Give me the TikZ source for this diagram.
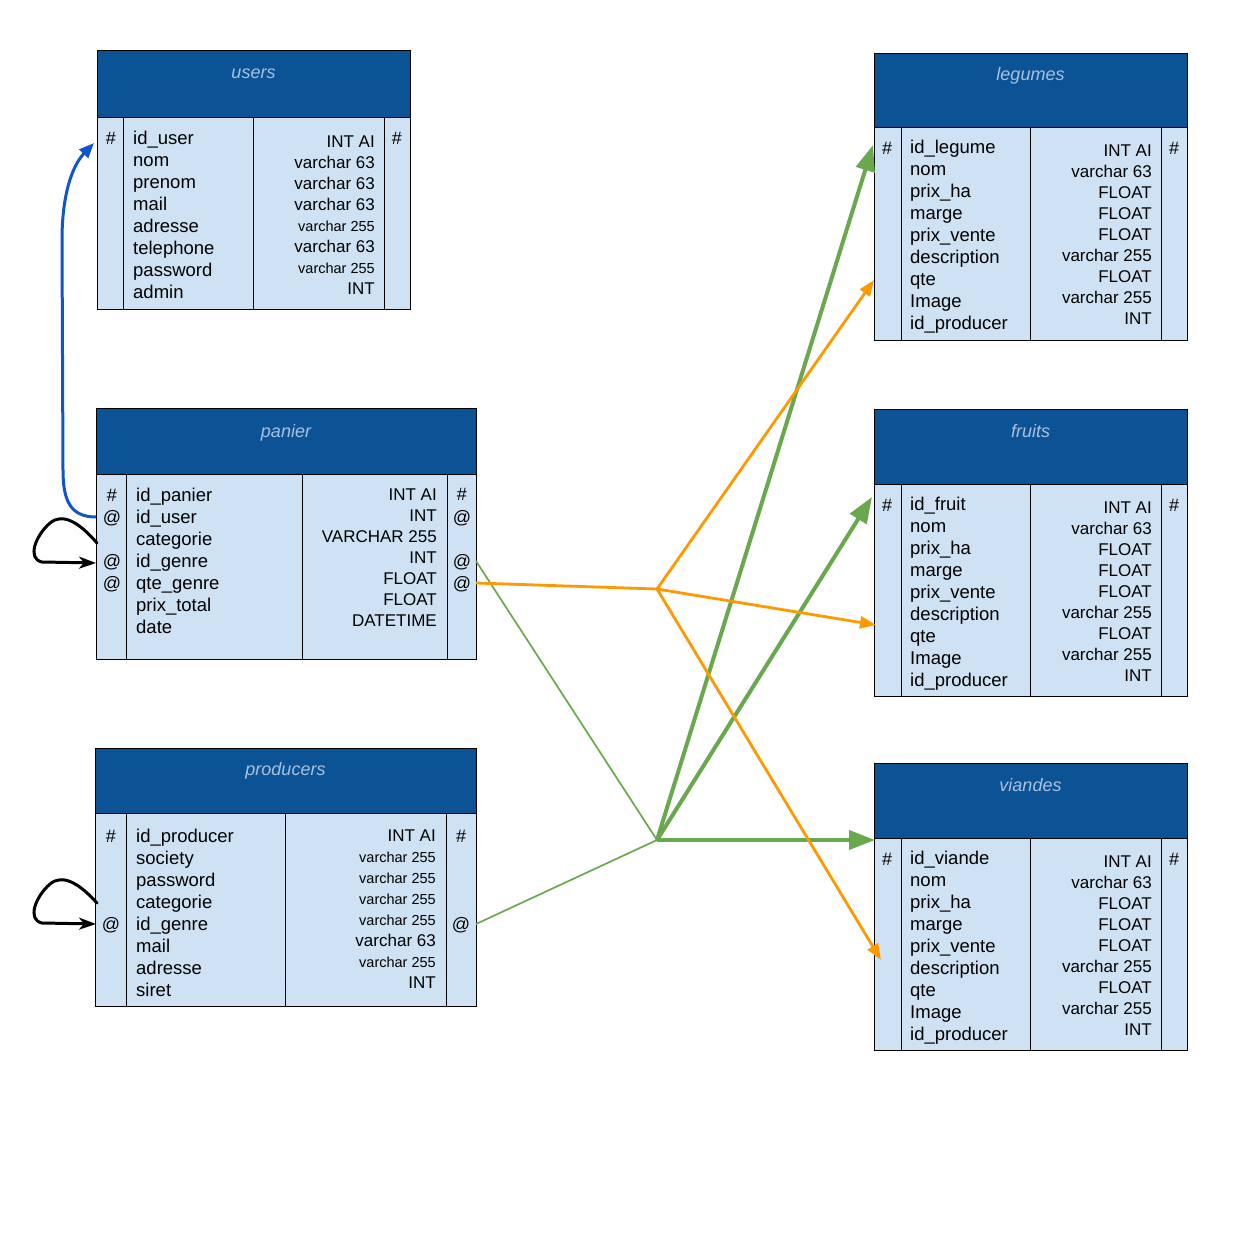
\documentclass[tikz,border=0pt]{standalone}
\usepackage{fontspec}
\setmainfont{Liberation Sans}
\usetikzlibrary{arrows.meta}
\definecolor{hdr}{HTML}{0B5394}
\definecolor{cell}{HTML}{CFE2F3}
\definecolor{ttl}{HTML}{A9C1DF}
\definecolor{org}{HTML}{FF9900}
\definecolor{grn}{HTML}{6AA84F}
\definecolor{blu}{HTML}{1155CC}
\newcommand\smv{{\fontsize{14.5}{21}\selectfont varchar 255}}
\newcommand\mktable[9]{%
  \node[hdrbox,minimum width={(#4-#2)*1pt},minimum height={(#5-#3)*1pt}] (#1-h) at (#2,#3) {};
  \node[cellbox,minimum width={(#7-#2)*1pt},minimum height={(#6-#5)*1pt}] (#1-a) at (#2,#5) {};
  \node[cellbox,minimum width={(#8-#7)*1pt},minimum height={(#6-#5)*1pt}] (#1-b) at (#7,#5) {};
  \node[cellbox,minimum width={(#9-#8)*1pt},minimum height={(#6-#5)*1pt}] (#1-c) at (#8,#5) {};
  \node[cellbox,minimum width={(#4-#9)*1pt},minimum height={(#6-#5)*1pt}] (#1-d) at (#9,#5) {};
}
\begin{document}
\begin{tikzpicture}[x=1pt,y=-1pt,
  hdrbox/.style={draw=black,fill=hdr,line width=1pt,inner sep=0pt,outer sep=0pt,anchor=north west},
  cellbox/.style={draw=black,fill=cell,line width=1pt,inner sep=0pt,outer sep=0pt,anchor=north west},
  fname/.style={font=\fontsize{18.5}{22}\selectfont,anchor=base west,inner sep=0pt},
  ftype/.style={font=\fontsize{17}{21}\selectfont,anchor=base east,inner sep=0pt},
  fsym/.style={font=\fontsize{18}{22}\selectfont,anchor=base,inner sep=0pt},
  ftitle/.style={font=\fontsize{18}{22}\selectfont\itshape,text=ttl,anchor=base,inner sep=0pt},
  orgline/.style={draw=org,line width=2.8pt},
  orgarrow/.style={orgline,-{Triangle[length=16pt,width=12pt]}},
  grnthin/.style={draw=grn,line width=1.7pt},
  grnthick/.style={draw=grn,line width=4pt,-{Triangle[length=26pt,width=19pt]}},
  bluline/.style={draw=blu,line width=3pt,-{Triangle[length=15pt,width=12pt]}},
  blkline/.style={draw=black,line width=3pt,line cap=round,-{Stealth[length=17pt,width=12pt,inset=5pt]}}
]
\useasboundingbox[fill=white] (0,0) rectangle (1253,1238);

% tables
\mktable{users}{97}{51}{410}{118}{310}{123}{253}{384}
\mktable{panier}{96}{409}{476}{474}{659}{126}{302}{447}
\mktable{producers}{95}{748}{476}{813}{1006}{126}{285}{446}
\mktable{legumes}{874}{54}{1187}{128}{341}{901}{1030}{1161}
\mktable{fruits}{874}{410}{1187}{484}{696}{901}{1030}{1161}
\mktable{viandes}{874}{763}{1187}{838}{1050}{901}{1030}{1161}

% titles
\node[ftitle] (users-title) at (253.5,79) {users};
\node[ftitle] (panier-title) at (286,437) {panier};
\node[ftitle] (producers-title) at (285.5,775) {producers};
\node[ftitle] (legumes-title) at (1030.5,81) {legumes};
\node[ftitle] (fruits-title) at (1030.5,437) {fruits};
\node[ftitle] (viandes-title) at (1030.5,791) {viandes};

% users
\foreach \t [count=\i] in {id\_user,nom,prenom,mail,adresse,telephone,password,admin}
  \node[fname] (users-n\i) at (133,{145+(\i-1)*21.9}) {\t};
\foreach \t [count=\i] in {INT AI,varchar 63,varchar 63,varchar 63,\smv,varchar 63,\smv,INT}
  \node[ftype] (users-t\i) at (375,{148+(\i-1)*21}) {\t};
\node[fsym] (users-s1) at (111,145) {\#};
\node[fsym] (users-s2) at (397,145) {\#};

% panier
\foreach \t [count=\i] in {id\_panier,id\_user,categorie,id\_genre,qte\_genre,prix\_total,date}
  \node[fname] (panier-n\i) at (136,{501+(\i-1)*22}) {\t};
\foreach \t [count=\i] in {INT AI,INT,VARCHAR 255,INT,FLOAT,FLOAT,DATETIME}
  \node[ftype] (panier-t\i) at (437,{500+(\i-1)*21}) {\t};
\node[fsym] (panier-s1) at (112,501) {\#};
\node[fsym] (panier-s2) at (112,523) {@};
\node[fsym] (panier-s3) at (112,567) {@};
\node[fsym] (panier-s4) at (112,589) {@};
\node[fsym] (panier-s5) at (462,500) {\#};
\node[fsym] (panier-s6) at (462,523) {@};
\node[fsym] (panier-s7) at (462,567) {@};
\node[fsym] (panier-s8) at (462,589) {@};

% producers
\foreach \t [count=\i] in {id\_producer,society,password,categorie,id\_genre,mail,adresse,siret}
  \node[fname] (producers-n\i) at (136,{842+(\i-1)*22}) {\t};
\foreach \t [count=\i] in {INT AI,\smv,\smv,\smv,\smv,varchar 63,\smv,INT}
  \node[ftype] (producers-t\i) at (436,{841+(\i-1)*21}) {\t};
\node[fsym] (producers-s1) at (111,842) {\#};
\node[fsym] (producers-s2) at (111,930) {@};
\node[fsym] (producers-s3) at (461,842) {\#};
\node[fsym] (producers-s4) at (461,930) {@};

% right tables
\foreach \tb/\yy/\first in {legumes/154/id\_legume,fruits/510/id\_fruit,viandes/864/id\_viande}{
  \foreach \t [count=\i] in {\first,nom,prix\_ha,marge,prix\_vente,description,qte,Image,id\_producer}
    \node[fname] (\tb-n\i) at (910,{\yy+(\i-1)*22}) {\t};
  \foreach \t [count=\i] in {INT AI,varchar 63,FLOAT,FLOAT,FLOAT,varchar 255,FLOAT,varchar 255,INT}
    \node[ftype] (\tb-t\i) at (1152,{\yy+3+(\i-1)*21}) {\t};
  \node[fsym] (\tb-s1) at (887,{\yy+1}) {\#};
  \node[fsym] (\tb-s2) at (1174,{\yy+1}) {\#};
}

% connector points
\coordinate (pan-l-user) at (96,517);
\coordinate (users-l) at (94,143);
\coordinate (pan-loop-s) at (97,543);
\coordinate (pan-loop-e) at (96,563);
\coordinate (pro-loop-s) at (97,903);
\coordinate (pro-loop-e) at (96,924);
\coordinate (pan-r-genre) at (476,561);
\coordinate (pan-r-qte) at (476,583);
\coordinate (pro-r-genre) at (476,924);
\coordinate (jo) at (657,589);
\coordinate (jg) at (657,840);
\coordinate (leg-in-g) at (873,145);
\coordinate (fru-in-g) at (872,497);
\coordinate (via-in-g) at (875,840);
\coordinate (leg-in-o) at (874,280);
\coordinate (fru-in-o) at (876,625);
\coordinate (via-in-o) at (881,960);

% blue
\draw[bluline] (pan-l-user) .. controls (70,517) and (63,500) .. (63,470) -- (62,240) .. controls (62,195) and (72,166) .. (users-l);
% black self loops
\draw[blkline] (pan-loop-s) .. controls (78,521) and (62,513) .. (50,523) .. controls (35,536) and (27,559) .. (42,562) -- (pan-loop-e);
\draw[blkline] (pro-loop-s) .. controls (78,882) and (62,874) .. (50,884) .. controls (35,897) and (27,920) .. (42,923) -- (pro-loop-e);
% green
\draw[grnthin] (pan-r-genre) -- (jg);
\draw[grnthin] (pro-r-genre) -- (jg);
\draw[grnthick] (jg) -- (leg-in-g);
\draw[grnthick] (jg) -- (fru-in-g);
\draw[grnthick] (jg) -- (via-in-g);
% orange
\draw[orgline] (pan-r-qte) -- (jo);
\draw[orgarrow] (jo) -- (leg-in-o);
\draw[orgarrow] (jo) -- (fru-in-o);
\draw[orgarrow] (jo) -- (via-in-o);
\end{tikzpicture}
\end{document}
